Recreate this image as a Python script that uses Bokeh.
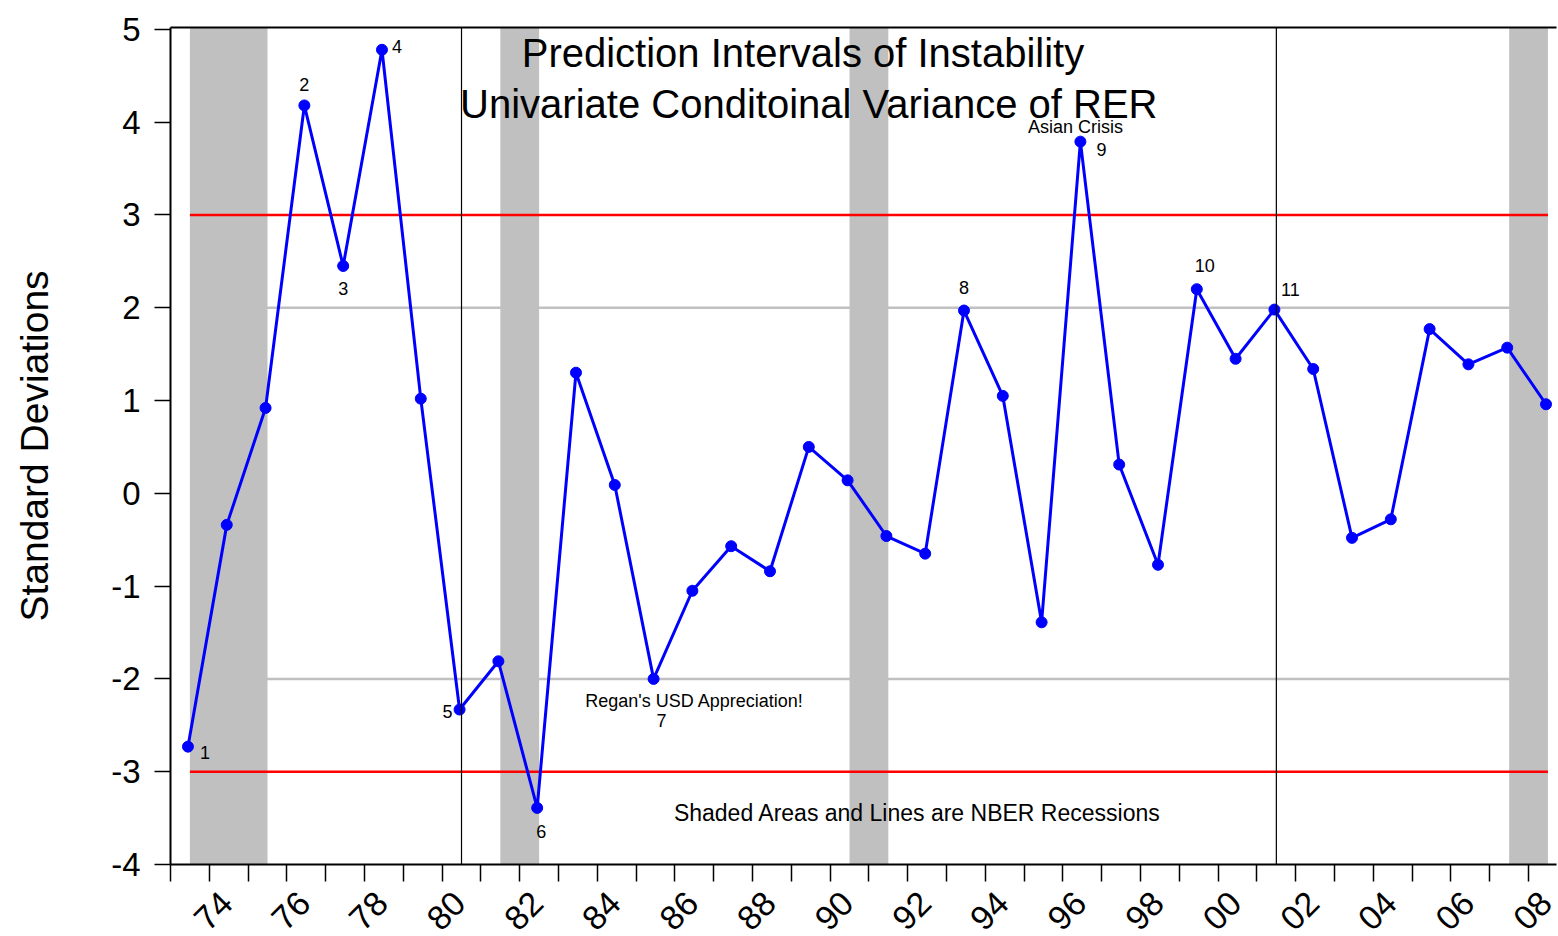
import math
from bokeh.plotting import figure
from bokeh.models import (Range1d, FixedTicker, LinearAxis, Span, BoxAnnotation,
                          ColumnDataSource)
from bokeh.core.properties import value
from bokeh.embed import file_html
from bokeh.resources import INLINE

# ---------------- data ----------------
years = list(range(1973, 2009))
std_dev = [-2.73, -0.34, 0.92, 4.18, 2.45, 4.78, 1.02, -2.33, -1.81, -3.39,
           1.30, 0.09, -2.00, -1.05, -0.57, -0.84, 0.50, 0.14, -0.46, -0.65,
           1.97, 1.05, -1.39, 3.79, 0.31, -0.77, 2.20, 1.45, 1.98, 1.34,
           -0.48, -0.28, 1.77, 1.39, 1.57, 0.96]

recession_start = [1973, 1981, 1990, 2007]
recession_end = [1975, 1982, 1991, 2008]
recession_lines = [1980, 2001]

inner_band = 2
outer_band = 3

y_ticks = [-4, -3, -2, -1, 0, 1, 2, 3, 4, 5]
y_tick_labels = ["-4", "-3", "-2", "-1", "0", "1", "2", "3", "4", "5"]
tick_years = list(range(1973, 2009))
label_years = list(range(1974, 2009, 2))
x_tick_labels = ["74", "76", "78", "80", "82", "84", "86", "88", "90",
                 "92", "94", "96", "98", "00", "02", "04", "06", "08"]

annot_years = [1973, 1976, 1977, 1978, 1980, 1982, 1985, 1993, 1996, 1999, 2001]
annot_texts = ["1", "2", "3", "4", "5", "6", "7", "8", "9", "10", "11"]
note_years = [1985, 1996]
note_texts = ["Regan's  USD  Appreciation!", "Asian Crisis"]

title_lines = ["Prediction Intervals of Instability",
               "Univariate Conditoinal Variance of RER"]
footnote = "Shaded Areas and Lines are NBER Recessions"
y_title = "Standard Deviations"

# ---------------- styles / positions ----------------
FONT = "Liberation Sans"
obs = [y + 0.45 for y in years]          # observation position inside the year
annot_dx = [17, 0, 0, 15, -12, 4, 8, 0, 21, 8, 16]
annot_dy = [6, -21, 23, -3, 2, 24, 42, -23, 8, -24, -20]
note_dx = [46, -5]
note_dy = [22, -15]
LABEL_SHIFT = 0.45   # rotated year labels are centred under their tick

X_START, X_END = 1973, 2008.72
p = figure(frame_width=1386, frame_height=837,
           x_range=Range1d(X_START, X_END), y_range=Range1d(-4, 5.02),
           output_backend="svg", toolbar_location=None,
           min_border_left=170, min_border_right=2,
           min_border_top=27, min_border_bottom=0,
           x_axis_type=None, y_axis_type=None)
p.grid.visible = False
p.outline_line_color = None
p.background_fill_color = "white"
p.extra_x_ranges = {"lab": Range1d(X_START - LABEL_SHIFT, X_END - LABEL_SHIFT)}

# recession shading and lines
for s, e in zip(recession_start, recession_end):
    p.add_layout(BoxAnnotation(left=s + 0.5, right=e + 0.5, fill_color="#C0C0C0",
                               fill_alpha=1.0, line_color=None, level="underlay"))

x0, x1 = years[0] + 0.5, years[-1] + 0.5
for lvl in (inner_band, -inner_band):
    p.line([x0, x1], [lvl, lvl], line_color="#C0C0C0", line_width=2.5)
for lvl in (outer_band, -outer_band):
    p.line([x0, x1], [lvl, lvl], line_color="#FF0000", line_width=2.5)
for r in recession_lines:
    p.add_layout(Span(location=r + 0.5, dimension="height", line_color="black",
                      line_width=1.2))

# series
src = ColumnDataSource(dict(x=obs, y=std_dev))
p.line("x", "y", source=src, line_color="#0000FF", line_width=3)
p.scatter("x", "y", source=src, size=11, fill_color="#0000FF", line_color="#0000FF")

# point annotations
idx = [years.index(y) for y in annot_years]
asrc = ColumnDataSource(dict(x=[obs[i] for i in idx], y=[std_dev[i] for i in idx],
                             t=annot_texts, dx=annot_dx, dy=annot_dy))
p.text("x", "y", text="t", source=asrc, x_offset="dx", y_offset="dy",
       text_font=value(FONT), text_font_size="18px", text_align="center",
       text_baseline="middle", text_color="black")
nidx = [years.index(y) for y in note_years]
nsrc = ColumnDataSource(dict(x=[obs[i] for i in nidx], y=[std_dev[i] for i in nidx],
                             t=note_texts, dx=note_dx, dy=note_dy))
p.text("x", "y", text="t", source=nsrc, x_offset="dx", y_offset="dy",
       text_font=value(FONT), text_font_size="18px", text_align="center",
       text_baseline="middle", text_color="black")

# titles and footnote inside the plot
p.text([1989.3, 1989.45], [4.75, 4.20], text=title_lines,
       text_font=value(FONT), text_font_size="40px", text_align="center",
       text_baseline="middle", text_color="black")
p.text([1992.25], [-3.44], text=[footnote],
       text_font=value(FONT), text_font_size="23px", text_align="center",
       text_baseline="middle", text_color="black")

# axes
yax = LinearAxis(ticker=FixedTicker(ticks=y_ticks),
                 major_label_overrides={t: l for t, l in zip(y_ticks, y_tick_labels)},
                 axis_label=y_title,
                 axis_line_width=2, axis_line_color="black",
                 major_tick_out=16, major_tick_in=0, major_tick_line_width=1.5,
                 minor_tick_line_color=None,
                 major_label_standoff=14,
                 major_label_text_font=FONT, major_label_text_font_size="33px",
                 major_label_text_color="black",
                 axis_label_text_font=FONT, axis_label_text_font_size="39px",
                 axis_label_text_font_style="normal", axis_label_text_color="black",
                 axis_label_standoff=52)
p.add_layout(yax, "left")

# bottom axis: year ticks as (minor) tick marks, labels every second year
xax = LinearAxis(x_range_name="lab",
                 ticker=FixedTicker(ticks=label_years,
                                    minor_ticks=[y - LABEL_SHIFT for y in tick_years]),
                 major_label_overrides={y: l for y, l in zip(label_years, x_tick_labels)},
                 major_label_orientation=math.pi / 4,
                 axis_line_width=2, axis_line_color="black",
                 major_tick_out=0, major_tick_in=0, major_tick_line_color=None,
                 minor_tick_out=17, minor_tick_in=0, minor_tick_line_width=1.5,
                 minor_tick_line_color="black",
                 major_label_standoff=16,
                 major_label_text_font=FONT, major_label_text_font_size="34px",
                 major_label_text_color="black")
p.add_layout(xax, "below")

top = LinearAxis(ticker=FixedTicker(ticks=[]), axis_line_width=2,
                 axis_line_color="black", major_tick_line_color=None,
                 minor_tick_line_color=None, major_label_text_font_size="0px")
p.add_layout(top, "above")

open("out.html", "w").write(file_html(p, INLINE))
